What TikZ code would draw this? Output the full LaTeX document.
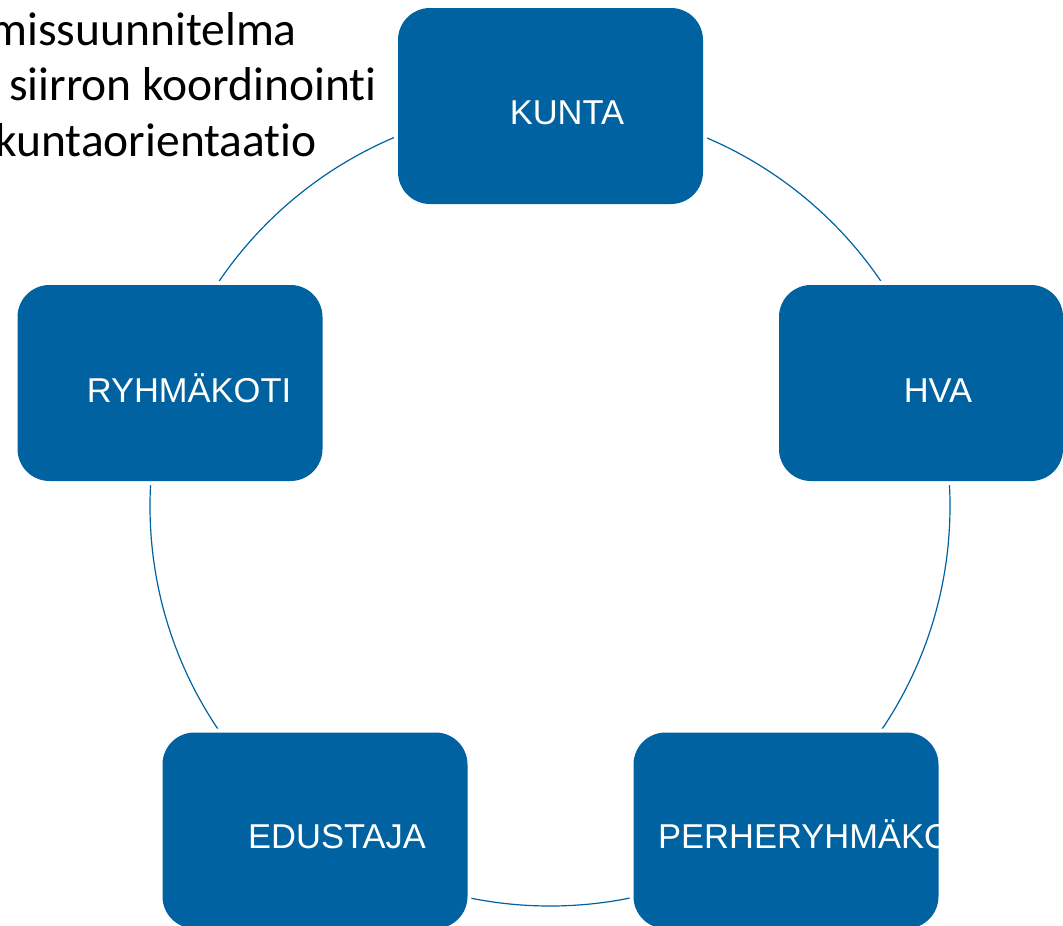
\documentclass[tikz,border=0pt]{standalone}
\usepackage{fontspec}
\setmainfont{Liberation Sans}
\newfontfamily\calib[Ligatures={NoCommon,NoRequired,NoContextual}]{Carlito}
\definecolor{boxblue}{HTML}{0062A0}
\begin{document}
\begin{tikzpicture}[x=1pt,y=-1pt,
  box/.style={fill=boxblue, preaction={draw=white,line width=8pt}, rounded corners=32pt,
    minimum width=305pt, minimum height=196pt, inner sep=0pt},
  boxtext/.style={text=white, font=\fontsize{34.5}{40}\selectfont, anchor=base, inner sep=0pt},
  sidetext/.style={text=black, font=\calib\fontsize{47.5}{56}\selectfont, anchor=base east, inner sep=0pt},
  ring/.style={draw=boxblue, line width=1.2pt}]
\useasboundingbox (0,0) rectangle (1063,926);
\coordinate (c) at (550,506);
\draw[ring] (c) circle[radius=400];
\node[box] (kunta) at (550.5,106) {};
\node[box, minimum width=284pt] (hva) at (921,383) {};
\node[box] (ryhma) at (170,383) {};
\node[box] (edustaja) at (315,830.5) {};
\node[box] (perhe) at (786,830.5) {};
\node[boxtext] (kuntaT) at (567,124) {KUNTA};
\node[boxtext] (hvaT) at (938,402) {HVA};
\node[boxtext] (ryhmaT) at (189,402) {RYHMÄKOTI};
\node[boxtext] (edustajaT) at (337,848) {EDUSTAJA};
\begin{scope}
  \clip (634,700) rectangle (938,926);
  \node[boxtext, anchor=base west] (perheT) at (658,848) {PERHERYHMÄKOTI};
\end{scope}
\node[sidetext] (l1) at (297,45) {missuunnitelma};
\node[sidetext] (l2) at (377,100) {siirron koordinointi};
\node[sidetext] (l3) at (317,156) {kuntaorientaatio};
\end{tikzpicture}
\end{document}
